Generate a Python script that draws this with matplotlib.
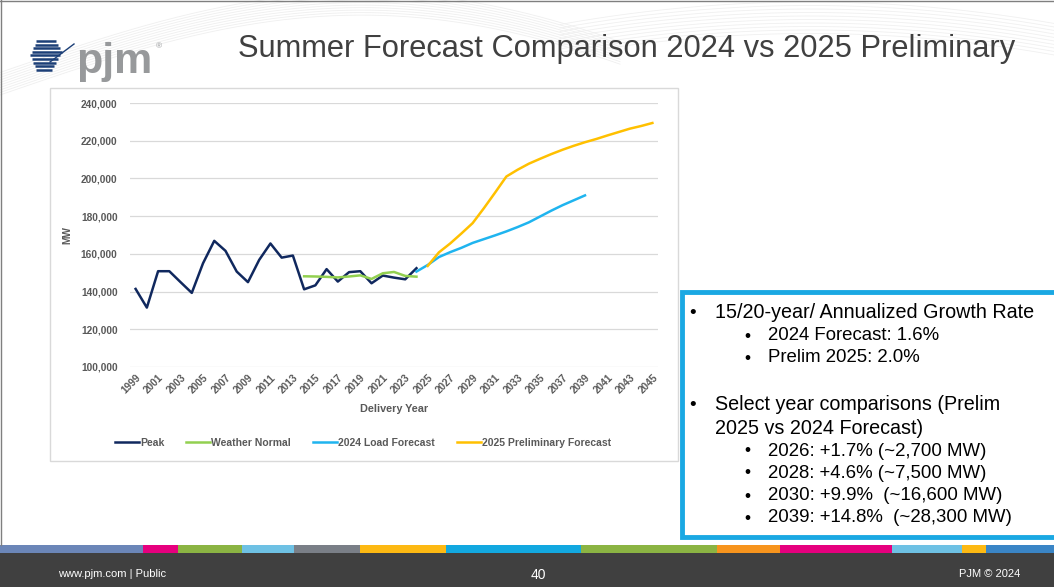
import numpy as np
import matplotlib
matplotlib.use('Agg')
import matplotlib.pyplot as plt
from matplotlib.patches import Rectangle

# ---- data ----
years = list(range(1999, 2046))

peak_start = 1999
peak = [141400, 131500, 150800, 150800, 145000, 139300, 155000, 166900, 161600,
        150600, 145000, 156800, 165500, 158000, 159100, 141200, 143300, 151900,
        145300, 150300, 150800, 144400, 148500, 147400, 146500, 152400]

wn_start = 2014
weather_normal = [148100, 148000, 147800, 147500, 148000, 148600, 146700,
                  149700, 150400, 148300, 147900]

lf24_start = 2024
load_2024 = [150600, 154100, 158300, 160900, 163200, 165800, 167800, 169800,
             171900, 174200, 176700, 179800, 182900, 185800, 188400, 191000]

pf25_start = 2025
prelim_2025 = [153600, 160800, 165500, 170800, 176300, 184200, 192500, 201000,
               204600, 207800, 210400, 212900, 215200, 217300, 219200, 220900,
               222800, 224600, 226400, 227800, 229400]

series_names = ['Peak', 'Weather Normal', '2024 Load Forecast', '2025 Preliminary Forecast']
series_colors = ['#10285e', '#92d050', '#1fb4ef', '#ffc000']

bullets = [
    (0, '15/20-year/ Annualized Growth Rate'),
    (1, '2024 Forecast: 1.6%'),
    (1, 'Prelim 2025: 2.0%'),
    (0, 'Select year comparisons (Prelim'),
    (2, '2025 vs 2024 Forecast)'),
    (1, '2026: +1.7% (~2,700 MW)'),
    (1, '2028: +4.6% (~7,500 MW)'),
    (1, '2030: +9.9%  (~16,600 MW)'),
    (1, '2039: +14.8%  (~28,300 MW)'),
]
bullet_y = [313, 336, 358, 405, 428, 451, 473, 496, 518]

strip_edges = [0, 143, 178, 242, 294, 360, 446, 581, 717, 780, 892, 962, 986, 1054]
strip_colors = ['#6b86b8', '#e6007e', '#8bb443', '#6ec1e4', '#7a7f87', '#fdb913',
                '#12a8e0', '#8bb443', '#f7941d', '#e6007e', '#6ec1e4', '#fdb913', '#3a85c6']

W, H = 1054, 587


def box(x0, y0, x1, y1):
    return [x0 / W, 1 - y1 / H, (x1 - x0) / W, (y1 - y0) / H]


plt.rcParams['font.family'] = ['Liberation Sans', 'DejaVu Sans']

fig = plt.figure(figsize=(W / 100, H / 100), dpi=100)
fig.patch.set_facecolor('white')

# background layer in pixel coordinates
bg = fig.add_axes([0, 0, 1, 1])
bg.set_xlim(0, W)
bg.set_ylim(H, 0)
bg.axis('off')

# faint swoosh lines at the top
t = np.linspace(0, 1, 200)
for k in range(10):
    xs = t * 620
    ys = 95 - 95 * np.sin(t * np.pi * 0.8) + 25 * t - k * 2.5
    bg.plot(xs, ys, color='#efefef', lw=0.6, zorder=0)
    xs2 = 560 + t * 500
    ys2 = 2 + 90 * (t - 0.5) ** 2 + k * 3.5
    bg.plot(xs2, ys2, color='#f0f0f0', lw=0.6, zorder=0)
bg.plot([0, W], [0.5, 0.5], color='#7f7f7f', lw=1)
bg.plot([0.5, 0.5], [0, 545], color='#7f7f7f', lw=1)

# logo
for i in range(9):
    y = 41 + i * 3.6
    x0 = 30 + abs(i - 4) * 1.5
    x1 = 62 - abs(i - 3) * 2
    bg.plot([x0, x1], [y, y], color='#1c3f77', lw=1.8, solid_capstyle='butt')
bg.plot([50, 74], [62, 44], color='#1c3f77', lw=1.0)
bg.text(76, 62, 'pjm', fontsize=31, color='#97999b', va='center', ha='left',
        fontweight='bold')
bg.text(156, 47, '®', fontsize=6, color='#97999b', va='center')

# title
bg.text(627, 49, 'Summer Forecast Comparison 2024 vs 2025 Preliminary',
        fontsize=22.2, color='#404040', ha='center', va='center')

# chart frame
bg.add_patch(Rectangle((50, 88), 628, 373, facecolor='white', edgecolor='#d9d9d9', lw=1))

# text box
bg.add_patch(Rectangle((682, 292), 380, 245, facecolor='white', edgecolor='#1aa8e3', lw=3.5))
for (lvl, txt), y in zip(bullets, bullet_y):
    if lvl == 0:
        bg.text(689, y, '•', fontsize=13.5, va='center', color='black')
        bg.text(715, y, txt, fontsize=14.2, va='center', color='black')
    elif lvl == 1:
        bg.text(744, y, '•', fontsize=12.5, va='center', color='black')
        bg.text(768, y, txt, fontsize=13.4, va='center', color='black')
    else:
        bg.text(715, y, txt, fontsize=14.2, va='center', color='black')

# footer
for i, c in enumerate(strip_colors):
    bg.add_patch(Rectangle((strip_edges[i], 545), strip_edges[i + 1] - strip_edges[i], 8,
                           facecolor=c, edgecolor='none'))
bg.add_patch(Rectangle((0, 553), W, 34, facecolor='#404040', edgecolor='none'))
bg.text(58, 574, 'www.pjm.com | Public', fontsize=8, color='white', va='center')
bg.text(538, 575, '40', fontsize=10, color='white', va='center', ha='center')
bg.text(1020, 574, 'PJM © 2024', fontsize=8, color='white', va='center', ha='right')

# ---- the chart ----
ax = fig.add_axes(box(130, 103, 658, 367))
ax.set_facecolor('none')
idx = {y: i for i, y in enumerate(years)}


def plot_series(start, vals, color, label):
    xs = np.arange(len(vals)) + idx[start]
    ax.plot(xs, vals, color=color, lw=1.8, label=label)


plot_series(peak_start, peak, series_colors[0], series_names[0])
plot_series(wn_start, weather_normal, series_colors[1], series_names[1])
plot_series(lf24_start, load_2024, series_colors[2], series_names[2])
plot_series(pf25_start, prelim_2025, series_colors[3], series_names[3])

ax.set_xlim(-0.5, len(years) - 0.5)
ax.set_ylim(100000, 240000)
ax.set_yticks(np.arange(100000, 240001, 20000))
ax.set_yticklabels([f'{v:,}' for v in range(100000, 240001, 20000)],
                   fontsize=7.3, color='#595959', fontweight='bold')
ax.grid(axis='y', color='#d9d9d9', lw=0.9)
ax.set_axisbelow(True)
for s in ax.spines.values():
    s.set_visible(False)
ax.tick_params(length=0, pad=9)
ax.set_xticks(range(0, len(years), 2))
ax.set_xticklabels([str(y) for y in years[::2]], rotation=45, ha='right',
                   rotation_mode='anchor', fontsize=7.3, color='#595959', fontweight='bold')
ax.tick_params(axis='x', pad=4)
ax.set_xlabel('Delivery Year', fontsize=7.8, color='#595959', fontweight='bold', labelpad=6)
ax.set_ylabel('MW', fontsize=7.3, color='#595959', fontweight='bold', labelpad=6)

ax.legend(loc='center', bbox_to_anchor=(363 / W, 1 - 443 / H), bbox_transform=fig.transFigure,
          ncol=4, frameon=False, handlelength=2.3, handletextpad=0.1, columnspacing=2.1,
          prop={'size': 7.5, 'weight': 'bold'}, labelcolor='#595959')

fig.savefig('out.png', dpi=100, facecolor='white')
